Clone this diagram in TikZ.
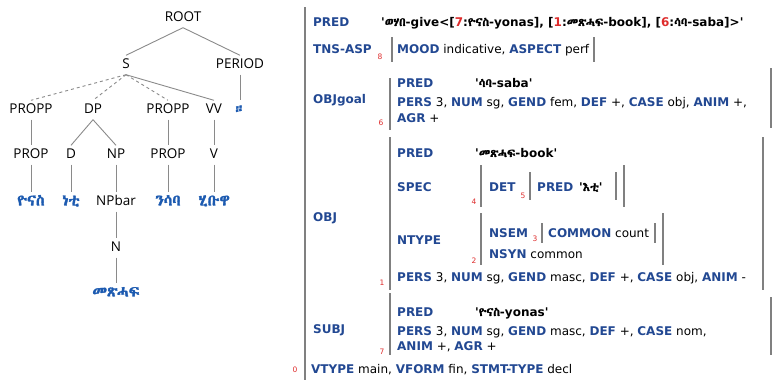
\documentclass[tikz,border=0pt]{standalone}
\usepackage{fontspec}
\usepackage{xcolor}
\usetikzlibrary{positioning}

\newfontfamily\treefont{Open Sans}
\newfontfamily\fsfont[Ligatures=TeXOff]{DejaVu Sans}
\IfFontExistsTF{Abyssinica SIL}{\newfontfamily\ethfont[AutoFakeBold=2]{Abyssinica SIL}}{%
  \IfFontExistsTF{Noto Sans Ethiopic}{\newfontfamily\ethfont{Noto Sans Ethiopic}}{%
    \IfFontExistsTF{FreeSerif}{\newfontfamily\ethfont[AutoFakeBold=2]{FreeSerif}}{%
      \newfontfamily\ethfont{DejaVu Sans}}}}

\definecolor{wordblue}{RGB}{28,90,176}
\definecolor{attblue}{RGB}{34,72,146}
\definecolor{idxred}{RGB}{222,44,44}
\definecolor{barcol}{RGB}{128,128,128}
\definecolor{edgecol}{RGB}{138,138,138}

\newcommand{\fattr}[1]{\textbf{\color{attblue}#1}}
\newcommand{\eth}[1]{{\ethfont #1}}
\newcommand{\fidx}[1]{\textcolor{idxred}{#1}}

\begin{document}
\begin{tikzpicture}[x=1pt, y=-1pt, on grid,
    cat/.style={font=\treefont\fontsize{13.5}{16}\selectfont, text height=10pt, text depth=3pt, inner xsep=1pt, inner ysep=3pt},
    word/.style={cat, font=\ethfont\bfseries\fontsize{15.5}{18}\selectfont, text=wordblue},
    edge/.style={draw=edgecol, line width=0.9pt},
    fs/.style={anchor=base west, inner sep=0pt, font=\fsfont\fontsize{12}{14}\selectfont},
    idx/.style={inner sep=0pt, font=\fsfont\fontsize{7.5}{9}\selectfont, text=idxred},
    fbar/.style={draw=barcol, line width=1.4pt}]

    \useasboundingbox (0,0) rectangle (774,381);

    % c-structure
    \node[cat] (root) at (183,18) {ROOT};
    \node[cat, below left=47pt and 57pt of root] (s) {S};
    \node[cat, below right=47pt and 57pt of root] (period) {PERIOD};

    \node[cat, below left=45pt and 95pt of s] (propp1) {PROPP};
    \node[cat, below left=45pt and 33pt of s] (dp) {DP};
    \node[cat, below right=45pt and 42pt of s] (propp2) {PROPP};
    \node[cat, below right=45pt and 88pt of s] (vv) {VV};
    \node[word, below=45pt of period] (stop) {።};

    \node[cat, below=45pt of propp1] (prop1) {PROP};
    \node[cat, below left=45pt and 22pt of dp] (d) {D};
    \node[cat, below right=45pt and 23pt of dp] (np) {NP};
    \node[cat, below=45pt of propp2] (prop2) {PROP};
    \node[cat, below=45pt of vv] (v) {V};

    \node[word, below=47pt of prop1] (yonas) {ዮናስ};
    \node[word, below=47pt of d] (neti) {ነቲ};
    \node[cat, below=47pt of np] (npbar) {NPbar};
    \node[word, below=47pt of prop2] (nsaba) {ንሳባ};
    \node[word, below=47pt of v] (hibuwa) {ሂቡዋ};
    \node[cat, below=46pt of npbar] (n) {N};
    \node[word, below=45pt of n] (metshaf) {መጽሓፍ};

    \draw[edge] (root.south) -- (s.north);
    \draw[edge] (root.south) -- (period.north);
    \draw[edge, dashed] (s.south) -- (propp1.north);
    \draw[edge, dashed] (s.south) -- (dp.north);
    \draw[edge, dashed] (s.south) -- (propp2.north);
    \draw[edge] (s.south) -- (vv.north);
    \draw[edge] (period) -- (stop);
    \draw[edge] (propp1) -- (prop1);
    \draw[edge] (dp.south) -- (d.north);
    \draw[edge] (dp.south) -- (np.north);
    \draw[edge] (propp2) -- (prop2);
    \draw[edge] (vv) -- (v);
    \draw[edge] (prop1) -- (yonas);
    \draw[edge] (d) -- (neti);
    \draw[edge] (np) -- (npbar);
    \draw[edge] (prop2) -- (nsaba);
    \draw[edge] (v) -- (hibuwa);
    \draw[edge] (npbar) -- (n);
    \draw[edge] (n) -- (metshaf);

    % f-structure
    \draw[fbar] (305,7) -- (305,380);

    \node[fs] (pred) at (313,26) {\fattr{PRED}};
    \node[fs] (predval) at (381,26) {\textbf{'\eth{ወሃበ}-give<[\fidx{7}:\eth{ዮናስ}-yonas], [\fidx{1}:\eth{መጽሓፍ}-book], [\fidx{6}:\eth{ሳባ}-saba]>'}};

    \node[fs] (tns) at (313,53) {\fattr{TNS-ASP}};
    \node[idx] (i8) at (380,57) {8};
    \draw[fbar] (392,37) -- (392,62);
    \node[fs] (mood) at (397,53) {\fattr{MOOD} indicative, \fattr{ASPECT} perf};
    \draw[fbar] (594,37) -- (594,62);

    \node[fs] (objgoal) at (313,103) {\fattr{OBJgoal}};
    \draw[fbar] (390,78) -- (390,130);
    \node[idx] (i6) at (381,123) {6};
    \node[fs] (gpred) at (397,87) {\fattr{PRED}};
    \node[fs] (gpredval) at (475,87) {\textbf{'\eth{ሳባ}-saba'}};
    \node[fs] (gpers) at (397,106) {\fattr{PERS} 3, \fattr{NUM} sg, \fattr{GEND} fem, \fattr{DEF} +, \fattr{CASE} obj, \fattr{ANIM} +,};
    \node[fs] (gagr) at (397,122) {\fattr{AGR} +};
    \draw[fbar] (771,68) -- (771,128);

    \node[fs] (obj) at (313,221) {\fattr{OBJ}};
    \draw[fbar] (390,137) -- (390,290);
    \node[idx] (i1) at (382,283) {1};
    \node[fs] (opred) at (397,157) {\fattr{PRED}};
    \node[fs] (opredval) at (475,157) {\textbf{'\eth{መጽሓፍ}-book'}};
    \node[fs] (spec) at (397,191) {\fattr{SPEC}};
    \draw[fbar] (481,165) -- (481,207);
    \node[idx] (i4) at (474,202) {4};
    \node[fs] (det) at (489,191) {\fattr{DET}};
    \node[idx] (i5) at (523,196) {5};
    \draw[fbar] (530,172) -- (530,200);
    \node[fs] (dpred) at (537,191) {\fattr{PRED}};
    \node[fs] (dpredval) at (579,191) {\textbf{'\eth{እቲ}'}};
    \draw[fbar] (616,172) -- (616,200);
    \draw[fbar] (624,165) -- (624,207);
    \node[fs] (ntype) at (397,244) {\fattr{NTYPE}};
    \draw[fbar] (481,213) -- (481,265);
    \node[idx] (i2) at (474,261) {2};
    \node[fs] (nsem) at (489,237) {\fattr{NSEM}};
    \node[idx] (i3) at (535,239) {3};
    \draw[fbar] (542,223) -- (542,243);
    \node[fs] (common) at (548,237) {\fattr{COMMON} count};
    \draw[fbar] (655,223) -- (655,243);
    \node[fs] (nsyn) at (489,258) {\fattr{NSYN} common};
    \draw[fbar] (663,213) -- (663,265);
    \node[fs] (opers) at (397,281) {\fattr{PERS} 3, \fattr{NUM} sg, \fattr{GEND} masc, \fattr{DEF} +, \fattr{CASE} obj, \fattr{ANIM} -};
    \draw[fbar] (763,137) -- (763,290);

    \node[fs] (subj) at (313,333) {\fattr{SUBJ}};
    \draw[fbar] (390,293) -- (390,355);
    \node[idx] (i7) at (382,352) {7};
    \node[fs] (spred) at (397,316) {\fattr{PRED}};
    \node[fs] (spredval) at (475,316) {\textbf{'\eth{ዮናስ}-yonas'}};
    \node[fs] (spers) at (397,335) {\fattr{PERS} 3, \fattr{NUM} sg, \fattr{GEND} masc, \fattr{DEF} +, \fattr{CASE} nom,};
    \node[fs] (sanim) at (397,350) {\fattr{ANIM} +, \fattr{AGR} +};
    \draw[fbar] (771,297) -- (771,355);

    \node[idx] (i0) at (295,370) {0};
    \node[fs] (vtype) at (311,373) {\fattr{VTYPE} main, \fattr{VFORM} fin, \fattr{STMT-TYPE} decl};
\end{tikzpicture}
\end{document}
